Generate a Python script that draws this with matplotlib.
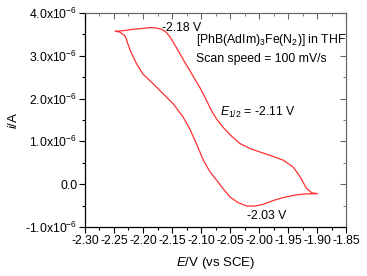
import numpy as np
import matplotlib
matplotlib.use('Agg')
import matplotlib.pyplot as plt
from matplotlib.ticker import MultipleLocator, FixedLocator

plt.rcParams['font.family'] = ['Liberation Sans', 'DejaVu Sans']
plt.rcParams['mathtext.fontset'] = 'custom'
plt.rcParams['mathtext.rm'] = 'Liberation Sans'
plt.rcParams['mathtext.it'] = 'Liberation Sans:italic'
plt.rcParams['font.size'] = 8.8

# cathodic sweep, -1.90 V -> -2.25 V
E_fwd = [-1.900, -1.909, -1.918, -1.929, -1.941, -1.958, -1.978, -1.998, -2.015, -2.033,
         -2.048, -2.062, -2.073, -2.082, -2.092, -2.102, -2.111, -2.119, -2.128, -2.136,
         -2.145, -2.153, -2.160, -2.168, -2.178, -2.188, -2.200, -2.217, -2.232, -2.248]
i_fwd = [-0.22, -0.20, -0.10, 0.17, 0.40, 0.56, 0.66, 0.75, 0.83, 0.95,
         1.13, 1.33, 1.52, 1.72, 2.00, 2.26, 2.46, 2.65, 2.85, 3.04,
         3.25, 3.43, 3.55, 3.62, 3.65, 3.66, 3.64, 3.62, 3.59, 3.57]

# return sweep, -2.25 V -> -1.90 V
E_rev = [-2.241, -2.231, -2.222, -2.211, -2.200, -2.182, -2.165, -2.148, -2.131, -2.119,
         -2.108, -2.096, -2.085, -2.073, -2.061, -2.050, -2.036, -2.021, -2.007, -1.993,
         -1.975, -1.958, -1.940, -1.924, -1.900]
i_rev = [3.56, 3.47, 3.12, 2.81, 2.57, 2.34, 2.11, 1.88, 1.57, 1.28,
         0.95, 0.56, 0.30, 0.09, -0.12, -0.30, -0.43, -0.51, -0.51, -0.47,
         -0.38, -0.31, -0.26, -0.23, -0.22]

x_ticks = [-2.30, -2.25, -2.20, -2.15, -2.10, -2.05, -2.00, -1.95, -1.90, -1.85]
y_ticks = [-1e-6, 0.0, 1e-6, 2e-6, 3e-6, 4e-6]
y_labels = [r'-1.0x10$^{-6}$', '0.0', r'1.0x10$^{-6}$', r'2.0x10$^{-6}$',
            r'3.0x10$^{-6}$', r'4.0x10$^{-6}$']

E = np.array(E_fwd + E_rev)
cur = np.array(i_fwd + i_rev) * 1e-6

fig = plt.figure(figsize=(3.67, 2.76), dpi=100)
ax = fig.add_axes([0.2316, 0.1775, 0.7112, 0.7755])
ax.plot(E, cur, color='#ff3030', lw=0.9)

ax.set_xlim(-2.30, -1.85)
ax.set_ylim(-1e-6, 4e-6)
ax.xaxis.set_major_locator(FixedLocator(x_ticks))
ax.set_xticklabels(['%.2f' % v for v in x_ticks])
ax.xaxis.set_minor_locator(MultipleLocator(0.025))
ax.yaxis.set_major_locator(FixedLocator(y_ticks))
ax.set_yticklabels(y_labels)
ax.yaxis.set_minor_locator(MultipleLocator(0.5e-6))

ax.tick_params(which='both', direction='out', top=False, right=False, pad=1.5)
ax.tick_params(which='major', length=4, width=0.8)
ax.tick_params(which='minor', length=2.5, width=0.8)
for s in ['top', 'right']:
    ax.spines[s].set_color('#666666')
for s in ['left', 'bottom']:
    ax.spines[s].set_linewidth(0.9)

# inward ticks on top and right
axt = ax.secondary_xaxis('top')
axt.xaxis.set_major_locator(FixedLocator(x_ticks))
axt.xaxis.set_minor_locator(MultipleLocator(0.025))
axt.tick_params(which='both', direction='in', labeltop=False, color='#666666')
axt.tick_params(which='major', length=4)
axt.tick_params(which='minor', length=2.5)
axt.spines['top'].set_color('#666666')
axr = ax.secondary_yaxis('right')
axr.yaxis.set_major_locator(FixedLocator(y_ticks))
axr.yaxis.set_minor_locator(MultipleLocator(0.5e-6))
axr.tick_params(which='both', direction='in', labelright=False, color='#666666')
axr.tick_params(which='major', length=4)
axr.tick_params(which='minor', length=2.5)
axr.spines['right'].set_color('#666666')

ax.set_xlabel(r'$E$/V (vs SCE)', labelpad=6, fontsize=9.5)
ax.set_ylabel(r'$i$/A', labelpad=4, fontsize=9.5)

ax.text(-2.167, 3.65e-6, '-2.18 V', va='center', ha='left')
ax.text(-2.109, 3.36e-6, r'[PhB(AdIm)$_3$Fe(N$_2$)] in THF', va='center', ha='left')
ax.text(-2.109, 2.93e-6, 'Scan speed = 100 mV/s', va='center', ha='left')
ax.text(-2.067, 1.67e-6, r'$E_{1/2}$ = -2.11 V', va='center', ha='left')
ax.text(-2.021, -0.74e-6, '-2.03 V', va='center', ha='left')

fig.savefig('out.png', dpi=100)
